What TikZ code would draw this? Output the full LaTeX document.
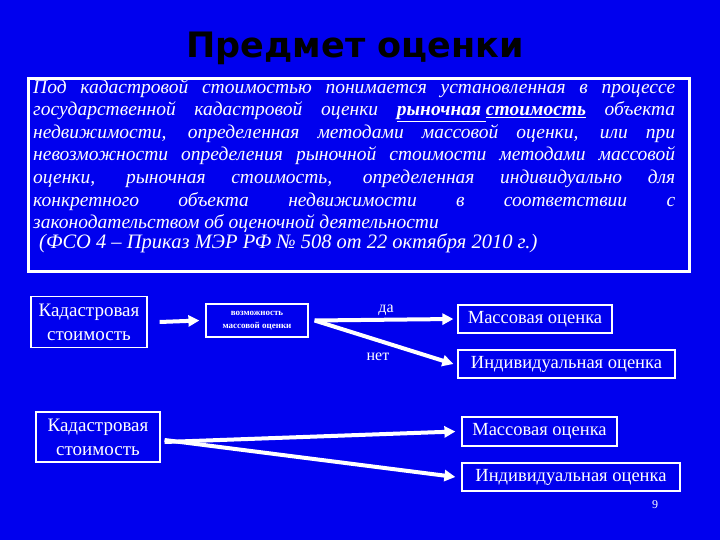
\documentclass[tikz,border=0pt]{standalone}
\usepackage{fontspec}
\setmainfont{Liberation Serif}
\newfontfamily\titlefont{DejaVu Sans}
\usetikzlibrary{arrows.meta}
\definecolor{bg}{RGB}{0,0,238}
\tikzset{
 box/.style={draw=white,line width=1.2pt,text=white,align=center,inner sep=3pt},
 arr/.style={white,line width=4pt,-{Triangle[length=11pt,width=11pt]}},
 lbl/.style={text=white,font=\fontsize{16}{17}\selectfont}
}
\begin{document}
\begin{tikzpicture}[x=1pt,y=-1pt]
\fill[bg] (0,0) rectangle (720,540);
\useasboundingbox (0,0) rectangle (720,540);
\node[font=\titlefont\bfseries\fontsize{35}{38}\selectfont,text=black] (title) at (355,48) {Предмет оценки};
\node[draw=white,line width=3pt,minimum width=661pt,minimum height=193pt,anchor=north west] (frame) at (27,77) {};
\node[text=white,anchor=north west,inner sep=0pt,text width=642pt,align=justify] (txt) at (33,79)
 {\fontsize{19.5}{22.6}\selectfont\itshape
 Под кадастровой стоимостью понимается установленная в процессе\linebreak
 государственной кадастровой оценки \textbf{\underline{рыночная }\underline{стоимость}} объекта\linebreak
 недвижимости, определенная методами массовой оценки, или при\linebreak
 невозможности определения рыночной стоимости методами массовой\linebreak
 оценки, рыночная стоимость, определенная индивидуально для\linebreak
 конкретного объекта недвижимости в соответствии с\linebreak
 законодательством об оценочной деятельности\hfill\null\par
 \hspace*{6pt}{\fontsize{20.5}{22.6}\selectfont(ФСО 4 – Приказ МЭР РФ № 508 от 22 октября 2010 г.)\hfill\null}};
\node[box,minimum width=116pt,minimum height=51pt,font=\fontsize{19}{24}\selectfont] (k1) at (89,322) {Кадастровая\\стоимость};
\node[box,minimum width=102pt,minimum height=33pt,font=\bfseries\fontsize{9}{13}\selectfont] (v) at (257,320.5) {возможность\\массовой оценки};
\node[box,minimum width=154pt,minimum height=28pt,font=\fontsize{18.5}{20}\selectfont] (m1) at (535,319) {Массовая оценка};
\node[box,minimum width=217pt,minimum height=28pt,font=\fontsize{18.5}{20}\selectfont] (i1) at (566.5,364) {Индивидуальная оценка};
\node[box,minimum width=124pt,minimum height=50pt,font=\fontsize{19}{24}\selectfont] (k2) at (98,437) {Кадастровая\\стоимость};
\node[box,minimum width=155pt,minimum height=29pt,font=\fontsize{18.5}{20}\selectfont] (m2) at (539.5,431.5) {Массовая оценка};
\node[box,minimum width=218pt,minimum height=28pt,font=\fontsize{18.5}{20}\selectfont] (i2) at (571,477) {Индивидуальная оценка};
\node[lbl] (da) at (386,310) {да};
\node[lbl] (net) at (378,357) {нет};
\node[text=white,font=\fontsize{12}{12}\selectfont] (pg) at (655,505) {9};
\draw[arr] ([xshift=12pt]k1.east) -- ([xshift=-6pt]v.west);
\draw[arr] ([xshift=6pt]v.east) -- ([xshift=-4pt]m1.west);
\draw[arr] ([xshift=6pt]v.east) -- ([xshift=-4pt]i1.west);
\draw[arr] ([xshift=4pt,yshift=-5pt]k2.east) -- ([xshift=-6pt]m2.west);
\draw[arr] ([xshift=4pt,yshift=-3pt]k2.east) -- ([xshift=-6pt]i2.west);
\end{tikzpicture}
\end{document}
